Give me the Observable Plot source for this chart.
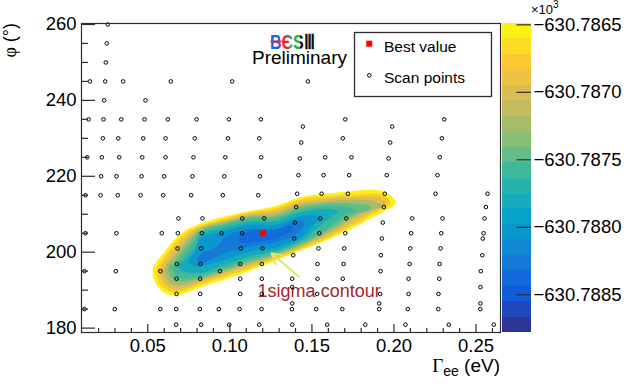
<!DOCTYPE html>
<html><head><meta charset="utf-8">
<script src="https://cdn.jsdelivr.net/npm/d3@7"></script>
<script src="https://cdn.jsdelivr.net/npm/@observablehq/plot@0.6"></script>
<style>
html,body{margin:0;padding:0;background:#fff;}
#wrap{position:relative;width:626px;height:386px;overflow:hidden;font-family:"Liberation Sans",Arial,sans-serif;}
#wrap svg{position:absolute;left:0;top:0;}
</style></head><body><div id="wrap"></div>
<script>
// ---- axis ticks ----
const xMajor = [0.05, 0.10, 0.15, 0.20, 0.25];
const xMinor = [0.02, 0.03, 0.04, 0.06, 0.07, 0.08, 0.09, 0.11, 0.12, 0.13, 0.14, 0.16, 0.17, 0.18, 0.19, 0.21, 0.22, 0.23, 0.24, 0.26];
const yMajor = [180, 200, 220, 240, 260];
const yMinor = [185, 190, 195, 205, 210, 215, 225, 230, 235, 245, 250, 255];
const zTicks = [-630.7885, -630.7880, -630.7875, -630.7870, -630.7865];
const zMin = -630.78878, zMax = -630.78649, nBands = 20;

// ---- scan points (rows of phi, with Gamma_ee values) ----
const scanPhi = [260.0, 255.0, 250.0, 245.0, 240.0, 235.0, 233.1, 230.0, 228.9, 225.0, 224.7, 220.0, 220.3, 215.0, 215.4, 211.9, 208.9, 207.8, 205.0, 203.6, 201.0, 199.2, 196.9, 195.0, 193.0, 190.8, 189.0, 186.5, 185.0, 180.9];
const scanGamma = [
  [0.0256],
  [0.0250],
  [0.0244],
  [0.0147,0.0240,0.0350,0.0640,0.1014,0.1475],
  [0.0234,0.0486],
  [0.0139,0.0230,0.0338,0.0480,0.0622,0.0797,0.0994,0.1189,0.1703,0.2306],
  [0.1445,0.1989],
  [0.0226,0.0320,0.0472,0.0608,0.0786,0.0988,0.1179,0.1688,0.2292],
  [0.1435,0.1977],
  [0.0131,0.0220,0.0326,0.0466,0.0608,0.0778,0.0972,0.1191,0.1581,0.1741,0.2279],
  [0.1426,0.1967],
  [0.0216,0.0309,0.0462,0.0600,0.0772,0.0966,0.1183],
  [0.1418,0.1571,0.1727,0.1956,0.2265],
  [0.0120,0.0212,0.0317,0.0456,0.0594,0.0764,0.0957,0.1173],
  [0.1410,0.1559,0.1719,0.1944,0.2253,0.2570],
  [0.1404,0.1938,0.2560],
  [0.0687,0.0833,0.1075,0.1209,0.1551,0.1709,0.2111,0.2296,0.2552],
  [0.1396,0.1932],
  [0.0120,0.0309,0.0585,0.0683,0.0829,0.0949,0.1075,0.1201,0.1545,0.1703,0.2105,0.2288,0.2546],
  [0.1392,0.1926,0.2541],
  [0.0681,0.0825,0.1067,0.1199,0.1540,0.1697,0.2099,0.2284],
  [0.1386,0.1920,0.2538],
  [0.0677,0.0821,0.1063,0.1195,0.1534,0.1693,0.2095,0.2278],
  [0.0114,0.0305,0.0577,0.0939,0.1918,0.2529],
  [0.0675,0.0819,0.1063,0.1195,0.1380,0.1534,0.1688,0.2089,0.2276],
  [0.1380,0.2527],
  [0.0675,0.0819,0.1063,0.1195,0.1532,0.1916,0.2089,0.2271],
  [0.1380,0.1910,0.2527],
  [0.0114,0.0299,0.0576,0.0673,0.0817,0.0933,0.1059,0.1193,0.1378,0.1526,0.1685,0.1910,0.2084,0.2270,0.2526],
  [0.0673,0.0825,0.0996,0.1179,0.1380,0.1593,0.1825,0.2070,0.2334,0.2608]
];
const bestValue = [{g: 0.1203, phi: 205.0}];

// ---- contour bands: [Gamma_ee, phi] outlines, outermost first ----
const level1 = [[0.0529,195.2],[0.0608,200.4],[0.0711,205.2],[0.0852,208.0],[0.1047,210.2],[0.1278,212.2],[0.1431,214.5],[0.1656,215.7],[0.1936,216.0],[0.2009,213.1],[0.1857,208.9],[0.1613,203.6],[0.1370,199.4],[0.1126,195.2],[0.0852,191.2],[0.0651,188.6],[0.0565,190.7]];
const level2 = [[0.0553,195.2],[0.0626,200.1],[0.0724,204.8],[0.0821,207.0],[0.0973,208.9],[0.1126,210.5],[0.1278,211.5],[0.1431,213.9],[0.1613,214.8],[0.1796,215.2],[0.1918,215.2],[0.1979,213.1],[0.1839,209.3],[0.1613,204.1],[0.1431,200.8],[0.1278,198.2],[0.1126,195.8],[0.0973,193.6],[0.0821,191.5],[0.0657,189.4],[0.0583,191.2]];
const level3 = [[0.0577,195.2],[0.0644,199.7],[0.0736,204.3],[0.0821,206.6],[0.0973,208.5],[0.1126,210.1],[0.1278,210.9],[0.1431,213.2],[0.1613,214.2],[0.1796,214.5],[0.1900,214.4],[0.1955,212.8],[0.1821,209.7],[0.1613,204.7],[0.1431,201.2],[0.1278,198.6],[0.1126,196.5],[0.0973,194.3],[0.0821,192.1],[0.0669,190.3],[0.0602,191.8]];
const level4 = [[0.0602,195.4],[0.0663,199.1],[0.0748,203.6],[0.0821,206.2],[0.0973,208.1],[0.1126,209.7],[0.1278,210.2],[0.1431,212.6],[0.1613,213.5],[0.1784,213.8],[0.1881,213.4],[0.1924,212.2],[0.1802,210.2],[0.1613,205.3],[0.1431,201.6],[0.1278,199.0],[0.1126,197.0],[0.0973,194.8],[0.0821,192.7],[0.0681,191.2],[0.0620,192.5]];
const level5 = [[0.0626,195.7],[0.0681,198.7],[0.0760,203.0],[0.0821,205.8],[0.0973,207.7],[0.1126,209.3],[0.1278,209.5],[0.1431,211.9],[0.1613,212.9],[0.1766,212.8],[0.1857,212.0],[0.1845,211.0],[0.1766,210.1],[0.1613,206.0],[0.1431,202.0],[0.1278,199.4],[0.1126,197.5],[0.0973,195.4],[0.0821,193.2],[0.0693,192.3],[0.0644,193.3]];
const level6 = [[0.0651,196.0],[0.0699,198.3],[0.0772,202.3],[0.0821,205.3],[0.0973,207.2],[0.1126,208.8],[0.1278,208.9],[0.1431,211.3],[0.1613,212.2],[0.1705,211.9],[0.1772,211.0],[0.1705,209.7],[0.1613,206.8],[0.1431,202.4],[0.1278,199.8],[0.1126,198.1],[0.0973,195.9],[0.0821,193.7],[0.0711,193.2],[0.0669,194.1]];
const level7 = [[0.0681,196.5],[0.0724,198.1],[0.0791,201.5],[0.0821,204.6],[0.0973,206.5],[0.1126,208.1],[0.1278,208.2],[0.1431,210.6],[0.1583,211.4],[0.1662,210.9],[0.1626,209.4],[0.1522,206.0],[0.1431,203.0],[0.1278,200.3],[0.1126,198.9],[0.0973,196.7],[0.0821,194.5],[0.0736,194.7],[0.0699,195.4]];
const level8 = [[0.0748,197.5],[0.0791,200.4],[0.0821,203.6],[0.0973,205.6],[0.1126,207.2],[0.1278,207.2],[0.1431,209.5],[0.1504,209.8],[0.1540,209.1],[0.1491,206.2],[0.1431,203.9],[0.1278,201.2],[0.1126,200.2],[0.0973,198.0],[0.0821,196.4],[0.0772,196.5]];
const level9 = [[0.0913,201.2],[0.0973,204.1],[0.1126,206.1],[0.1278,206.2],[0.1418,208.2],[0.1455,207.8],[0.1418,205.2],[0.1278,202.6],[0.1126,201.5],[0.0973,199.9],[0.0894,198.3],[0.0821,197.3],[0.0797,198.1],[0.0839,199.9]];
const level10 = [[0.1053,204.1],[0.1156,205.7],[0.1278,205.7],[0.1370,207.0],[0.1388,206.2],[0.1278,203.6],[0.1156,202.6],[0.1065,202.6]];
const contourLevels = [level1, level2, level3, level4, level5, level6, level7, level8, level9, level10];
const levelBand = [19, 17, 15, 13, 11, 10, 8, 6, 4, 3];

// ---- annotation ----
const noteText = [{g: 0.1169, phi: 188.3, label: "1sigma contour"}];
const noteArrow = [{g1: 0.1418, phi1: 193.6, g2: 0.1254, phi2: 199.7}];

// ---- palette (ROOT kBird stops) ----
const birdStops = ["#352a87","#0f5cdd","#1481d6","#06a4ca","#2eb7a4","#87bf77","#d1bb59","#fec832","#f9fb0e"];
const bird = d3.piecewise(d3.interpolateRgb, birdStops);
const bandColor = i => bird((i + 0.5) / nBands);

const scan = scanPhi.flatMap((p, i) => scanGamma[i].map(g => ({g, phi: p})));
const font = "'Liberation Sans', Arial, Helvetica, sans-serif";
const ink = "#2b2b2b";

const main = Plot.plot({
  width: 626, height: 386,
  marginLeft: 81, marginRight: 126, marginTop: 23, marginBottom: 54,
  x: {domain: [0.0096, 0.2649]},
  y: {domain: [178.84, 260.26]},
  style: {fontFamily: font, fontSize: "18.5px", background: "transparent", color: "black", overflow: "visible"},
  marks: [
    ...contourLevels.map((poly, i) => Plot.line(poly, {
      x: d => d[0], y: d => d[1], fill: bandColor(levelBand[i]), stroke: "none", curve: "catmull-rom-closed"
    })),
    Plot.text(noteText, {x: "g", y: "phi", text: "label", fill: "#a5262d", fontSize: 18, textAnchor: "start", lineAnchor: "bottom"}),
    Plot.arrow(noteArrow, {x1: "g1", y1: "phi1", x2: "g2", y2: "phi2", stroke: "#e6e26c", strokeWidth: 2, headLength: 9}),
    Plot.dot(scan, {x: "g", y: "phi", r: 1.8, stroke: "black", strokeWidth: 1, fill: "none"}),
    Plot.dot(bestValue, {x: "g", y: "phi", symbol: "square", r: 3.4, fill: "#ff0000", stroke: "none"}),
    Plot.frame({stroke: ink, strokeWidth: 1.2}),
    Plot.tickY(yMajor, {y: d => d, insetRight: 405, stroke: ink, strokeWidth: 1.2}),
    Plot.tickY(yMinor, {y: d => d, insetRight: 412, stroke: ink, strokeWidth: 1.2}),
    Plot.tickX(xMajor, {x: d => d, insetTop: 301, stroke: ink, strokeWidth: 1.2}),
    Plot.tickX(xMinor, {x: d => d, insetTop: 305, stroke: ink, strokeWidth: 1.2}),
    Plot.axisY(yMajor, {tickSize: 0, tickPadding: 5, label: null, fontSize: 18.5}),
    Plot.axisX(xMajor, {tickSize: 0, tickPadding: 6, label: null, fontSize: 18.5, tickFormat: d3.format(".2f")})
  ]
});

const bands = d3.range(nBands).map(i => ({
  lo: zMin + i * (zMax - zMin) / nBands,
  hi: zMin + (i + 1) * (zMax - zMin) / nBands,
  color: bandColor(i)
}));

const bar = Plot.plot({
  width: 626, height: 386,
  marginLeft: 502, marginRight: 95, marginTop: 23, marginBottom: 54,
  x: {domain: [0, 1], axis: null},
  y: {domain: [zMin, zMax]},
  color: {type: "identity"},
  style: {fontFamily: font, fontSize: "18.5px", background: "transparent", color: "black", overflow: "visible"},
  marks: [
    Plot.rect(bands, {x1: () => 0, x2: () => 1, y1: "lo", y2: "hi", fill: "color", shapeRendering: "crispEdges"}),
    Plot.ruleY(zTicks, {y: d => d, x1: () => 0.5, x2: () => 1, stroke: ink, strokeWidth: 1.2}),
    Plot.axisY(zTicks, {anchor: "right", tickSize: 0, tickPadding: 2, label: null, fontSize: 18.5, tickFormat: d3.format(".4f")})
  ]
});

const wrap = document.getElementById("wrap");
wrap.appendChild(main);
wrap.appendChild(bar);

const ns = "http://www.w3.org/2000/svg";
const ov = document.createElementNS(ns, "svg");
ov.setAttribute("width", 626); ov.setAttribute("height", 386);
ov.setAttribute("font-family", "Liberation Sans, Arial, sans-serif");
ov.innerHTML = `
  <defs>
    <linearGradient id="besLogo" gradientUnits="userSpaceOnUse" x1="270" y1="0" x2="315" y2="0">
      <stop offset="0" stop-color="#1a63e6"/><stop offset="0.19" stop-color="#1a63e6"/>
      <stop offset="0.19" stop-color="#e8262e"/><stop offset="0.43" stop-color="#e8262e"/>
      <stop offset="0.43" stop-color="#22b04b"/><stop offset="0.66" stop-color="#22b04b"/>
      <stop offset="0.66" stop-color="#111"/><stop offset="1" stop-color="#111"/>
    </linearGradient>
  </defs>
  <text transform="translate(16,23) rotate(-90)" text-anchor="end" font-size="18"><tspan font-family="Liberation Serif, serif">φ</tspan> (°)</text>
  <text x="500" y="372" text-anchor="end" font-size="19"><tspan font-family="Liberation Serif, serif">Γ</tspan><tspan font-size="14" dy="4">ee</tspan><tspan dy="-4"> (eV)</tspan></text>
  <rect x="354.5" y="32.5" width="137" height="64" fill="white" stroke="${ink}" stroke-width="1.3"/>
  <rect x="366.3" y="40.7" width="6" height="6" fill="#ff0000"/>
  <text x="384" y="51.7" font-size="15.5">Best value</text>
  <circle cx="369.3" cy="75.3" r="1.8" fill="none" stroke="black" stroke-width="1"/>
  <text x="384" y="83.3" font-size="15.5">Scan points</text>
  <text x="252" y="64" font-size="19">Preliminary</text>
  <text x="270" y="49" font-size="20" font-weight="bold" fill="url(#besLogo)" textLength="45" lengthAdjust="spacingAndGlyphs">BЄSⅢ</text>
  <rect x="270.5" y="40.5" width="11" height="2" fill="#e8262e"/>
  <text x="531" y="14" font-size="13">×10<tspan font-size="10" dy="-6">3</tspan></text>
`;
wrap.appendChild(ov);
</script></body></html>
